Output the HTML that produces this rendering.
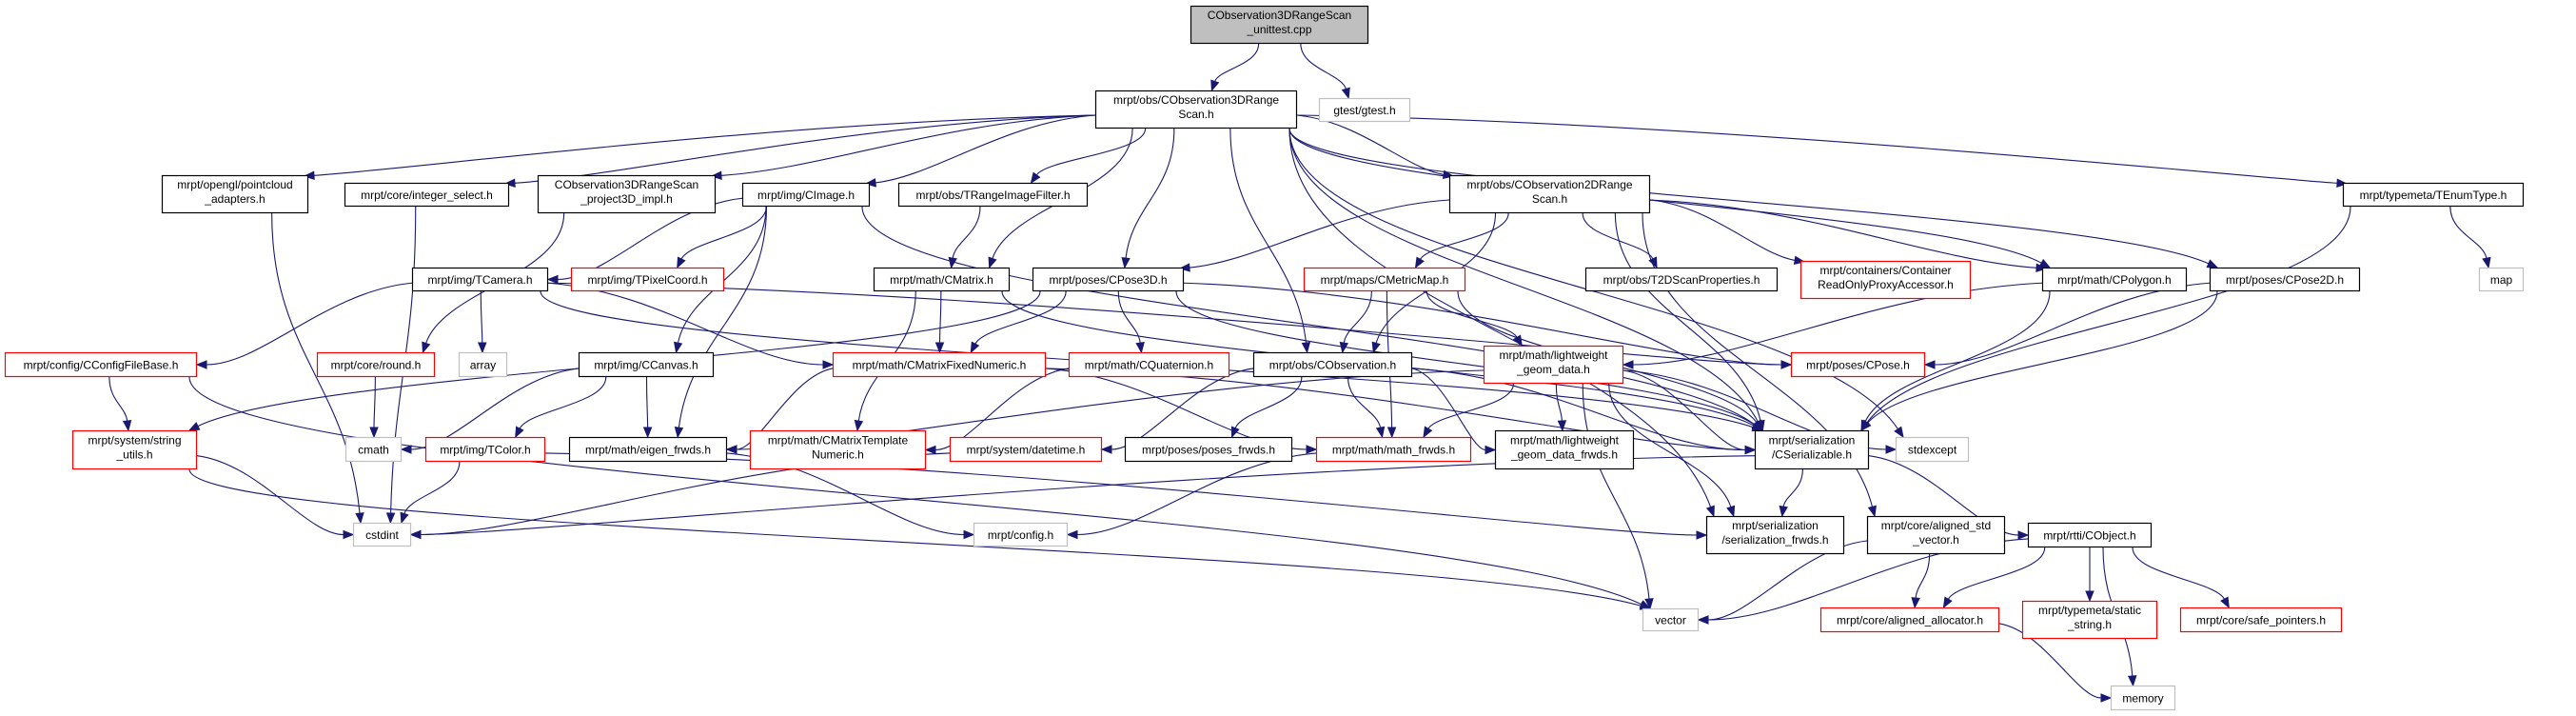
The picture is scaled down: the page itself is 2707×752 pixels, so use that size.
<!DOCTYPE html>
<html><head><meta charset="utf-8"><style>
html,body{margin:0;padding:0;background:#fff;}
svg{display:block;}
text{font-family:"Liberation Sans",sans-serif;font-size:12px;fill:#000;}
</style></head><body>
<svg id="g" width="2707" height="752" viewBox="0 0 2707 752" xmlns="http://www.w3.org/2000/svg">
<g id="edges" fill="none" stroke="#191970" stroke-width="1.1"></g>
<g id="arrows" fill="#191970" stroke="#191970"></g>
<g id="nodes"></g>
</svg>
<script>
var N={
root:[1251,6,1438,46,'g',['CObservation3DRangeScan','_unittest.cpp']],
n3d:[1151,95,1363,135,'k',['mrpt/obs/CObservation3DRange','Scan.h']],
gtest:[1386,103,1482,128,'e',['gtest/gtest.h']],
pc:[170,184,324,224,'k',['mrpt/opengl/pointcloud','_adapters.h']],
isel:[362,192,535,217,'k',['mrpt/core/integer_select.h']],
proj:[565,184,752,224,'k',['CObservation3DRangeScan','_project3D_impl.h']],
cimg:[780,192,914,217,'k',['mrpt/img/CImage.h']],
trif:[944,192,1143,217,'k',['mrpt/obs/TRangeImageFilter.h']],
n2d:[1523,184,1734,224,'k',['mrpt/obs/CObservation2DRange','Scan.h']],
tenum:[2462,192,2652,217,'k',['mrpt/typemeta/TEnumType.h']],
tcam:[433,281,576,306,'k',['mrpt/img/TCamera.h']],
tpix:[600,281,761,306,'r',['mrpt/img/TPixelCoord.h']],
cmat:[918,281,1061,306,'k',['mrpt/math/CMatrix.h']],
cp3d:[1085,281,1244,306,'k',['mrpt/poses/CPose3D.h']],
cmm:[1370,281,1540,306,'r',['mrpt/maps/CMetricMap.h']],
t2d:[1666,281,1868,306,'k',['mrpt/obs/T2DScanProperties.h']],
cont:[1892,274,2071,314,'r',['mrpt/containers/Container','ReadOnlyProxyAccessor.h']],
cpoly:[2146,281,2298,306,'k',['mrpt/math/CPolygon.h']],
cp2d:[2322,281,2480,306,'k',['mrpt/poses/CPose2D.h']],
map:[2605,281,2652,306,'e',['map']],
ccfg:[5,370,207,396,'r',['mrpt/config/CConfigFileBase.h']],
round:[333,370,457,396,'r',['mrpt/core/round.h']],
array:[482,370,533,396,'e',['array']],
ccanv:[608,370,750,396,'k',['mrpt/img/CCanvas.h']],
cmfn:[875,370,1099,396,'r',['mrpt/math/CMatrixFixedNumeric.h']],
cquat:[1123,370,1292,396,'r',['mrpt/math/CQuaternion.h']],
cobs:[1317,370,1484,396,'k',['mrpt/obs/CObservation.h']],
lgd:[1559,363,1706,403,'r',['mrpt/math/lightweight','_geom_data.h']],
cpose:[1882,370,2023,396,'r',['mrpt/poses/CPose.h']],
stru:[76,452,207,493,'r',['mrpt/system/string','_utils.h']],
cmath:[363,459,422,485,'e',['cmath']],
tcol:[447,459,573,485,'r',['mrpt/img/TColor.h']],
eig:[598,459,764,485,'k',['mrpt/math/eigen_frwds.h']],
cmtn:[788,452,973,493,'r',['mrpt/math/CMatrixTemplate','Numeric.h']],
dt:[998,459,1158,485,'r',['mrpt/system/datetime.h']],
pfw:[1182,459,1358,485,'k',['mrpt/poses/poses_frwds.h']],
mfw:[1383,459,1546,485,'r',['mrpt/math/math_frwds.h']],
lgdf:[1571,452,1717,493,'k',['mrpt/math/lightweight','_geom_data_frwds.h']],
cser:[1844,452,1964,493,'k',['mrpt/serialization','/CSerializable.h']],
stdx:[1992,459,2069,485,'e',['stdexcept']],
cstd:[371,549,432,574,'e',['cstdint']],
cfg:[1023,549,1122,574,'e',['mrpt/config.h']],
sfw:[1793,542,1938,582,'k',['mrpt/serialization','/serialization_frwds.h']],
asv:[1962,542,2107,582,'k',['mrpt/core/aligned_std','_vector.h']],
cobj:[2131,549,2261,575,'k',['mrpt/rtti/CObject.h']],
vec:[1726,639,1785,663,'e',['vector']],
aal:[1913,638,2101,664,'r',['mrpt/core/aligned_allocator.h']],
sstr:[2125,631,2267,671,'r',['mrpt/typemeta/static','_string.h']],
sptr:[2291,638,2461,664,'r',['mrpt/core/safe_pointers.h']],
mem:[2218,720,2286,746,'e',['memory']]
};
var E=[['root','n3d'],['root','gtest'],
['n3d','pc'],['n3d','isel'],['n3d','proj'],['n3d','cimg'],['n3d','trif'],['n3d','cmat'],['n3d','cp3d'],['n3d','cobs'],['n3d','n2d'],['n3d','cpoly'],['n3d','cp2d'],['n3d','tenum'],['n3d','cser'],['n3d','sfw'],['n3d','stdx'],
['pc','cstd'],['isel','cstd'],['proj','round'],
['cimg','tcam'],['cimg','tpix'],['cimg','ccanv'],['cimg','eig'],['cimg','cser'],
['trif','cmat'],
['tcam','ccfg'],['tcam','array'],['tcam','cmfn'],['tcam','cpose'],['tcam','cser'],
['ccfg','stru'],['ccfg','vec'],['stru','cstd'],['stru','vec'],['round','cmath'],
['ccanv','cmath'],['ccanv','tcol'],['ccanv','eig'],
['tcol','cstd'],['tcol','sfw'],['eig','cfg'],
['cmat','cmfn'],['cmat','cmtn'],['cmat','cser'],
['cp3d','cmfn'],['cp3d','cquat'],['cp3d','cpose'],['cp3d','cser'],['cp3d','stru'],
['cmfn','eig'],['cmfn','mfw'],['cmfn','cser'],['cquat','cmtn'],
['cobs','dt'],['cobs','pfw'],['cobs','mfw'],['cobs','lgdf'],['cobs','cser'],
['dt','cstd'],['mfw','cfg'],
['cmm','cobs'],['cmm','mfw'],['cmm','lgd'],['cmm','cser'],
['n2d','cp3d'],['n2d','cobs'],['n2d','cmm'],['n2d','t2d'],['n2d','cont'],['n2d','cpoly'],['n2d','cser'],['n2d','asv'],
['lgd','eig'],['lgd','mfw'],['lgd','lgdf'],['lgd','vec'],['lgd','sfw'],['lgd','stdx'],['lgd','cser'],
['cpoly','lgd'],['cpoly','cser'],['cp2d','cpose'],['cp2d','cser'],['tenum','map'],['tenum','cser'],
['cser','cstd'],['cser','sfw'],['cser','cobj'],
['asv','vec'],['asv','aal'],
['cobj','vec'],['cobj','aal'],['cobj','sstr'],['cobj','sptr'],['cobj','mem'],['aal','mem']];
var NS='http://www.w3.org/2000/svg';
function el(t,a,p){var e=document.createElementNS(NS,t);for(var k in a)e.setAttribute(k,a[k]);p.appendChild(e);return e;}
function cl(v,a,b){return Math.max(a,Math.min(b,v));}
var ge=document.getElementById('edges'),ga=document.getElementById('arrows'),gn=document.getElementById('nodes');
E.forEach(function(e){
 var a=N[e[0]],b=N[e[1]];
 var acx=(a[0]+a[2])/2,bcx=(b[0]+b[2])/2,bcy=(b[1]+b[3])/2;
 var sx=cl(acx+(bcx-acx)*0.25,a[0]+8,a[2]-8),sy=a[3];
 var dy=b[1]-sy, dx=bcx-sx, ex,ey,c1,c2;
 if(Math.abs(dx)>3.2*Math.max(dy,1)&&dy<140){
   var sg=dx<0?-1:1;
   var corner=(e[0]=='n3d'||e[0]=='n2d');
   sx=sg<0?a[0]:a[2]; sy=a[1]+(a[3]-a[1])*0.65;
   if(corner){ex=sg<0?b[2]-4:b[0]+4;ey=b[1]+1;}
   else{ex=sg<0?b[2]:b[0];ey=bcy;}
   var adx=Math.abs(ex-sx);
   c1=[sx+sg*adx*0.4,sy+(ey-sy)*0.1];
   c2=[ex-sg*Math.min(adx*0.3,120),ey-(corner?8:0)];
 } else {
   ex=cl(bcx+(sx-bcx)*0.25,b[0]+8,b[2]-8);ey=b[1];
   var k=Math.max(dy,30)*0.45;
   c1=[sx,sy+k];c2=[ex+(sx-ex)*0.15,ey-k];
 }
 var ang=Math.atan2(ey-c2[1],ex-c2[0]);
 var L=10,W=4;
 var bx=ex-L*Math.cos(ang),by=ey-L*Math.sin(ang);
 el('path',{d:'M'+sx+','+sy+' C'+c1[0]+','+c1[1]+' '+c2[0]+','+c2[1]+' '+bx.toFixed(1)+','+by.toFixed(1)},ge);
 var px=-Math.sin(ang)*W,py=Math.cos(ang)*W;
 el('polygon',{points:ex+','+ey+' '+(bx+px).toFixed(1)+','+(by+py).toFixed(1)+' '+(bx-px).toFixed(1)+','+(by-py).toFixed(1)},ga);
});
for(var id in N){var n=N[id];
 var col=n[4]=='r'?'#ff0000':(n[4]=='e'?'#bfbfbf':'#000');
 el('rect',{x:n[0]+0.5,y:n[1]+0.5,width:n[2]-n[0]-1,height:n[3]-n[1]-1,fill:n[4]=='g'?'#bfbfbf':'#fff',stroke:col,'stroke-width':1.2},gn);
 var lines=n[5],cx=(n[0]+n[2])/2,h=n[3]-n[1],w=n[2]-n[0];
 for(var i=0;i<lines.length;i++){
  var y=lines.length==1?n[1]+h/2+4.5:n[1]+h/2-4+i*15-2;
  var t=el('text',{x:cx,y:y,'text-anchor':'middle'},gn);
  t.textContent=lines[i];
  var tl=t.getComputedTextLength();
  var maxw=w-14; if(tl>maxw){t.setAttribute('textLength',maxw);t.setAttribute('lengthAdjust','spacingAndGlyphs');}
 }
}
</script>
</body></html>
